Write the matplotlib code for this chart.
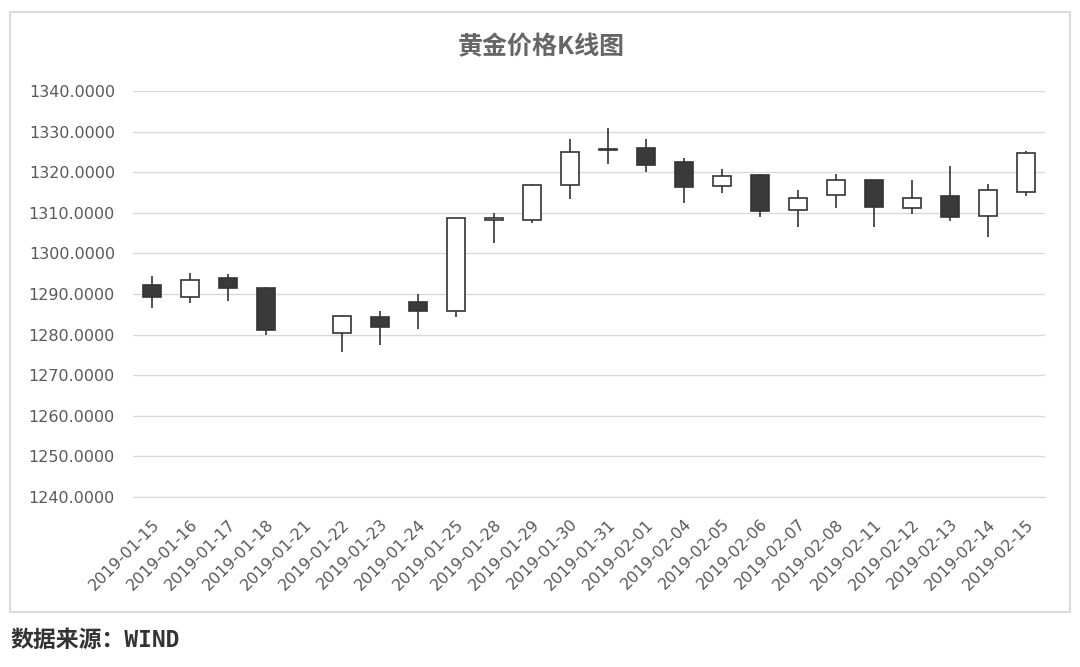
import numpy as np
import matplotlib.pyplot as plt
from matplotlib.patches import Rectangle

# gold price daily K-line (01-21 has no trading)
dates = ["2019-01-15", "2019-01-16", "2019-01-17", "2019-01-18", "2019-01-21",
         "2019-01-22", "2019-01-23", "2019-01-24", "2019-01-25", "2019-01-28",
         "2019-01-29", "2019-01-30", "2019-01-31", "2019-02-01", "2019-02-04",
         "2019-02-05", "2019-02-06", "2019-02-07", "2019-02-08", "2019-02-11",
         "2019-02-12", "2019-02-13", "2019-02-14", "2019-02-15"]
open_ = [1292.2, 1289.3, 1293.9, 1291.6, np.nan, 1280.3, 1284.3, 1288.0, 1285.9, 1308.3,
         1308.2, 1316.8, 1325.5, 1325.9, 1322.4, 1316.6, 1319.3, 1310.7, 1314.3, 1318.0,
         1311.2, 1314.1, 1309.2, 1315.1]
close = [1289.2, 1293.4, 1291.4, 1281.1, np.nan, 1284.6, 1281.8, 1285.9, 1308.6, 1308.6,
         1316.8, 1324.9, 1325.7, 1321.8, 1316.3, 1319.1, 1310.5, 1313.7, 1318.0, 1311.5,
         1313.7, 1309.0, 1315.5, 1324.7]
high = [1294.4, 1295.1, 1294.9, 1291.8, np.nan, 1284.8, 1285.9, 1290.0, 1308.8, 1309.9,
        1317.0, 1328.3, 1330.8, 1328.1, 1323.4, 1320.7, 1319.5, 1315.7, 1319.6, 1318.1,
        1318.0, 1321.6, 1317.0, 1325.1]
low = [1286.5, 1287.7, 1288.3, 1279.9, np.nan, 1275.8, 1277.4, 1281.3, 1284.4, 1302.5,
       1307.6, 1313.3, 1322.0, 1320.1, 1312.5, 1314.8, 1309.0, 1306.4, 1311.1, 1306.6,
       1309.7, 1308.0, 1304.1, 1314.1]
yticks = [1240, 1250, 1260, 1270, 1280, 1290, 1300, 1310, 1320, 1330, 1340]

plt.rcParams['font.family'] = ['DejaVu Sans', 'Noto Sans CJK SC']

o = np.array(open_)
c = np.array(close)
h = np.array(high)
l = np.array(low)
x = np.arange(len(dates))
ok = ~np.isnan(o)
up = ok & (c >= o)
down = ok & (c < o)

fig = plt.figure(figsize=(10.8, 6.67), dpi=100)
fig.patches.append(Rectangle((10 / 1080, 1 - 612 / 667), 1060 / 1080, 600 / 667,
                             transform=fig.transFigure, fill=False,
                             edgecolor='#d4d4d4', linewidth=1.2))
ax = fig.add_axes([133 / 1080, 170 / 667, 912 / 1080, 406 / 667])

ax.vlines(x[ok], l[ok], h[ok], color='#333333', linewidth=1.2, zorder=2)
w = 0.45
ax.bar(x[up], c[up] - o[up], bottom=o[up], width=w, color='white',
       edgecolor='#333333', linewidth=1.2, zorder=3)
ax.bar(x[down], o[down] - c[down], bottom=c[down], width=w, color='#3a3a3a',
       edgecolor='#333333', linewidth=1.2, zorder=3)

ax.set_xlim(-0.5, len(dates) - 0.5)
ax.set_ylim(1240, 1340)
ax.set_yticks(yticks)
ax.set_yticklabels(["%.4f" % v for v in yticks], color='#595959', fontsize=11.5)
ax.set_xticks(x)
ax.set_xticklabels(dates, rotation=45, ha='right', rotation_mode='anchor',
                   color='#595959', fontsize=11.5)
ax.tick_params(axis='y', length=0, pad=13)
ax.tick_params(axis='x', length=0, pad=14)
ax.grid(axis='y', color='#d9d9d9', linewidth=1)
ax.set_axisbelow(True)
for side in ['top', 'left', 'right']:
    ax.spines[side].set_visible(False)
ax.spines['bottom'].set_color('#d9d9d9')

fig.text(541 / 1080, 1 - 47 / 667, "黄金价格K线图", ha='center', va='center',
         fontsize=18, color='#666666', fontweight='bold', family=['Noto Sans CJK SC'])
fig.text(10 / 1080, 1 - 640 / 667, "数据来源：WIND", ha='left', va='center',
         fontsize=16.5, color='#333333', fontweight='bold',
         family=['DejaVu Sans Mono', 'Noto Sans CJK SC'])

fig.savefig('out.png', dpi=100, facecolor='white')
